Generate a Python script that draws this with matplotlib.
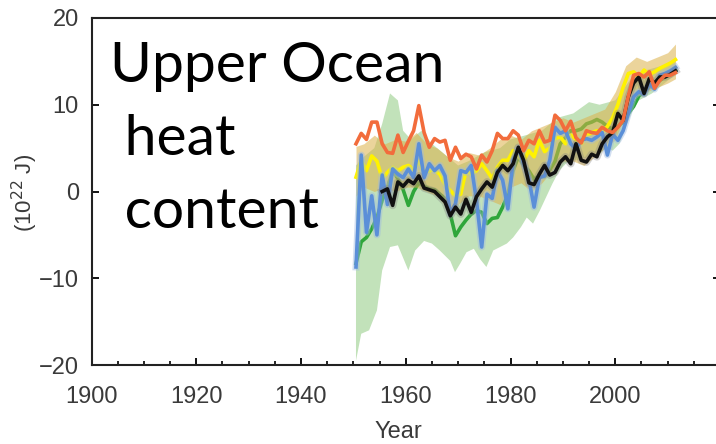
import matplotlib
matplotlib.use("Agg")
import matplotlib.pyplot as plt
import numpy as np
from matplotlib.ticker import MultipleLocator

plt.rcParams['font.family'] = ['Liberation Sans', 'DejaVu Sans']

# annual values, 1950..2011 (plotted at mid-year)
years = np.arange(1950, 2012) + 0.5

orange = [5.5, 6.7, 6.0, 8.0, 8.0, 5.5, 4.5, 4.4, 6.5, 4.5,
          5.8, 7.0, 9.9, 6.8, 5.1, 6.1, 5.7, 5.9, 3.6, 5.1,
          3.8, 4.3, 4.0, 2.6, 4.2, 3.4, 4.7, 6.7, 6.1, 6.1,
          7.0, 6.5, 4.7, 5.9, 5.5, 7.0, 5.7, 5.9, 8.8, 8.2,
          7.0, 8.1, 6.2, 5.6, 7.0, 6.8, 6.7, 7.4, 7.0, 6.8,
          7.4, 8.2, 11.0, 13.4, 13.6, 13.2, 13.8, 11.9, 12.8, 13.4,
          13.4, 13.7]

yellow = [1.65, 3.6, 2.4, 4.1, 3.5, 1.5, 2.2, 2.8, 2.4, 2.8,
          3.0, 2.5, 3.5, 2.2, 2.4, 2.5, 2.0, 0.8, 0.1, -0.5,
          -0.3, 2.4, 2.0, 2.4, 3.2, 2.4, 1.5, 2.8, 3.6, 3.6,
          4.7, 4.0, 3.5, 4.7, 4.0, 5.9, 4.6, 5.0, 6.1, 6.3,
          5.5, 6.5, 6.0, 5.5, 6.5, 6.8, 7.0, 6.8, 7.5, 8.5,
          10.0, 12.0, 13.6, 13.8, 13.2, 14.0, 13.5, 13.8, 14.2, 14.5,
          14.8, 15.2]

blue = [-8.7, 4.2, -4.7, -0.5, -5.0, 1.9, -1.5, 2.6, 2.0, 1.6,
        2.6, 1.6, 5.5, 1.6, 3.2, 2.4, 3.0, 1.8, -2.6, -1.4,
        2.4, 2.2, 3.0, -1.0, -6.4, -0.3, -0.8, 2.4, 1.3, -2.0,
        3.6, 5.0, 3.2, 1.5, -1.8, 1.6, 1.8, 3.6, 7.4, 6.7,
        7.0, 5.5, 4.9, 5.9, 6.1, 5.9, 6.3, 6.8, 4.2, 6.6,
        5.9, 7.0, 9.0, 10.9, 11.5, 11.2, 12.4, 11.8, 13.4, 13.6,
        13.9, 14.3]

green = [-8.3, -5.8, -5.3, -4.3, -3.0, -1.0, 0.5, 2.3, 1.5, 0.2,
         -1.6, 0.0, 1.0, 0.6, 0.3, 0.2, -0.3, -0.8, -2.6, -5.1,
         -4.1, -3.3, -2.6, -2.2, -2.4, -3.7, -3.1, -3.0, -1.8, -0.3,
         2.4, 4.0, 3.0, 2.4, 1.4, 1.8, 1.7, 2.5, 3.5, 5.5,
         6.2, 7.0, 7.0, 7.2, 7.8, 8.0, 8.3, 8.0, 7.5, 7.2,
         7.5, 8.0, 9.0, 9.8, 11.0, 11.5, 12.0, 12.3, 12.8, 13.2,
         13.6, 14.0]

# black series starts in 1955
black_years = np.arange(1955, 2012) + 0.5
black = [0.0, 0.3, -1.6, 1.1, 0.6,
         1.3, 0.9, 1.8, 0.4, 0.2, 0.0, -0.6, -1.2, -2.8, -1.8,
         -2.6, -0.9, -2.4, -0.6, 0.3, 1.1, 0.5, 2.2, 3.0, 2.4,
         3.2, 5.1, 3.6, 1.0, 0.8, 2.0, 3.0, 1.9, 2.2, 3.4,
         4.0, 3.2, 5.5, 3.6, 3.4, 4.3, 4.0, 5.5, 6.3, 6.8,
         9.0, 8.2, 10.9, 12.5, 13.2, 11.3, 13.0, 12.5, 13.2, 13.2,
         13.5, 13.9]

# uncertainty envelopes
green_up_years = [1950.5, 1952, 1954, 1955.5, 1957, 1958.5, 1959.5, 1961, 1963, 1965,
                  1968, 1970, 1972, 1975, 1978, 1980, 1983, 1986, 1989, 1992,
                  1995, 1997, 2000, 2003, 2006, 2009, 2011.5]
green_upper = [3.0, 4.0, 5.0, 7.8, 11.3, 10.5, 7.0, 6.0, 7.0, 5.5,
               4.0, 3.0, 3.5, 4.5, 5.0, 6.0, 6.5, 7.0, 8.5, 9.0,
               10.3, 10.0, 10.5, 13.0, 14.0, 14.5, 15.0]

green_low_years = [1950.5, 1951.5, 1953, 1954.5, 1955.5, 1957, 1958.5, 1960.5, 1961.8, 1963.5,
                   1965, 1966.5, 1968.5, 1969.4, 1970.4, 1971.6, 1973, 1974.2, 1975.4, 1976.7,
                   1978, 1979.3, 1980.5, 1982, 1983.1, 1984.3, 1985.6, 1986.8, 1988, 1989.3,
                   1991.2, 1993, 1995, 1997, 1998.3, 1999.5, 2000.8, 2002, 2003.3, 2004.5,
                   2007, 2011.5]
green_lower = [-19.5, -16.4, -16.0, -13.7, -9.1, -6.4, -6.2, -9.1, -6.8, -5.7,
               -6.0, -6.8, -8.0, -9.3, -8.3, -7.0, -6.6, -7.8, -8.7, -6.8,
               -6.4, -6.0, -5.3, -4.1, -3.0, -3.7, -2.2, -0.65, 0.9, 2.4,
               3.6, 3.6, 4.0, 4.3, 5.1, 4.7, 5.5, 7.4, 9.3, 10.5,
               11.3, 13.5]

tan_years = [1950.5, 1952, 1954, 1956, 1958, 1960, 1962, 1964, 1966, 1968,
             1970, 1972, 1974, 1976, 1978, 1980, 1982, 1984, 1986, 1988,
             1990, 1992, 1994, 1996, 1998, 2000, 2002, 2004, 2006, 2008,
             2010, 2011.5]
tan_upper = [5.2, 5.5, 6.5, 5.5, 6.0, 5.8, 6.8, 5.5, 5.0, 4.0,
             3.5, 4.5, 4.2, 5.0, 6.0, 6.5, 6.0, 7.0, 7.5, 8.0,
             8.5, 8.0, 8.5, 9.0, 9.5, 11.5, 14.5, 15.5, 15.0, 15.5,
             16.0, 17.0]
tan_lower = [-0.5, 0.5, 0.0, 0.5, 0.0, 0.5, 0.5, 0.0, -0.5, -2.0,
             -1.5, -0.5, -0.5, -1.0, -1.5, 0.5, 1.0, 0.0, 1.0, 2.5,
             3.5, 3.5, 3.0, 4.0, 5.0, 6.0, 9.0, 11.0, 11.5, 12.0,
             12.5, 13.0]

W, H = 716, 444
fig = plt.figure(figsize=(W / 100, H / 100), dpi=100)
ax = fig.add_axes([91.5 / W, 1 - 365 / H, (720 - 91.5) / W, (365 - 18) / H])

# green envelope as one polygon: upper edge forward, lower edge back
ax.fill(np.concatenate([green_up_years, green_low_years[::-1]]),
        np.concatenate([green_upper, green_lower[::-1]]),
        color='#c2e2ba', lw=0, zorder=1)
ax.plot(years, green, color='#2fa63a', lw=2.6, zorder=2)

ax.fill_between(tan_years, tan_lower, tan_upper, color='#dcb14a', alpha=0.55, lw=0, zorder=3)
ax.plot(years, yellow, color='#fff200', lw=2.6, zorder=4)

ax.plot(years, blue, color='#9db9e2', lw=5, alpha=0.45, solid_joinstyle='round', zorder=5)
ax.plot(years, blue, color='#5b8fd8', lw=2.6, zorder=6)

ax.plot(black_years, black, color='#808080', lw=5.5, alpha=0.35, solid_joinstyle='round', zorder=7)
ax.plot(black_years, black, color='#111111', lw=2.6, zorder=8)

ax.plot(years, orange, color='#f26c3c', lw=2.6, zorder=9)

ax.set_xlim(1900, 2020)
ax.set_ylim(-20, 20)
ax.set_xticks([1900, 1920, 1940, 1960, 1980, 2000])
ax.xaxis.set_minor_locator(MultipleLocator(5))
ax.set_yticks([-20, -10, 0, 10, 20])

lbl = '#3a3a3a'
ax.tick_params(axis='both', which='major', direction='in', length=5, width=1.3,
               labelsize=17, labelcolor=lbl, right=True, top=False)
ax.tick_params(axis='x', which='major', pad=15)
ax.tick_params(axis='y', which='major', pad=9)
ax.tick_params(axis='x', which='minor', direction='in', length=3, width=1.2, top=False)
for s in ax.spines.values():
    s.set_linewidth(1.5)
    s.set_color('#222222')

ax.set_xlabel("Year", fontsize=17, color=lbl)
ax.xaxis.set_label_coords((398 - 91.5) / (720 - 91.5), -(432 - 365) / (365 - 18), transform=ax.transAxes)
ax.xaxis.label.set_va('center')
ax.set_ylabel("(10$^{22}$ J)", fontsize=16, color=lbl)
ax.yaxis.set_label_coords(-(91.5 - 25) / (720 - 91.5), (365 - 193) / (365 - 18))
ax.yaxis.label.set_va('center')

title_font = dict(family=['Lato', 'DejaVu Sans'], fontsize=41, color='black', va='baseline', ha='left')
fig.text(110 / W, 1 - 82 / H, "Upper Ocean", **title_font)
fig.text(110 / W, 1 - 155 / H, " heat", **title_font)
fig.text(110 / W, 1 - 228 / H, " content", **title_font)

fig.savefig("out.png", dpi=100)
